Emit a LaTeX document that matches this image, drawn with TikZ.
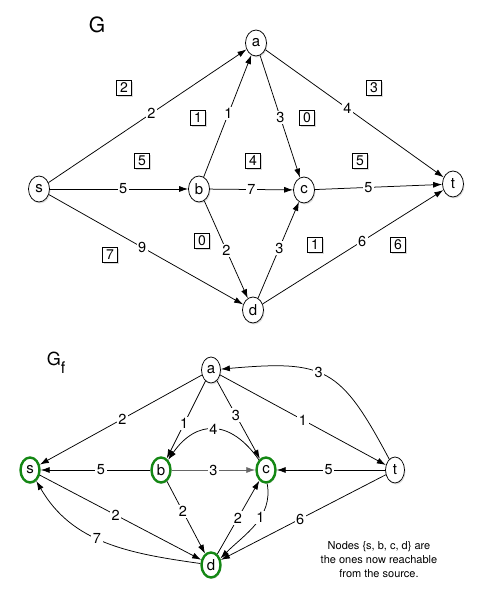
\documentclass[tikz,border=0pt]{standalone}
\usepackage{fontspec}
\setmainfont{TeX Gyre Heros}
\usetikzlibrary{shapes,arrows.meta,shadows}
\definecolor{reachgreen}{RGB}{20,135,20}

\begin{document}
\begin{tikzpicture}[x=10pt,y=10pt,line width=0.75pt,>={Latex[length=9pt,width=6pt]},
    vertex/.style={ellipse,draw,fill=white,inner sep=0pt,minimum width=21pt,minimum height=26pt,
        font=\fontsize{15}{15}\selectfont,drop shadow={opacity=0.25,shadow xshift=1pt,shadow yshift=-1.5pt}},
    rvertex/.style={vertex,minimum width=19pt,minimum height=26pt},
    reach/.style={vertex,draw=reachgreen,line width=2.4pt,minimum width=19pt,minimum height=25pt},
    lbl/.style={fill=white,inner sep=1.5pt,font=\fontsize{14.5}{14.5}\selectfont},
    flowbox/.style={draw,fill=white,inner sep=0pt,minimum size=15pt,font=\fontsize{14}{14}\selectfont,
        drop shadow={opacity=0.3,shadow xshift=1pt,shadow yshift=-1.5pt}}]
\useasboundingbox (0,0) rectangle (48.5,60.2);
% Network G
\node[font=\fontsize{21}{21}\selectfont] (gtitle) at (9.7,57.7) {G};
\node[vertex] (a) at (25.6,55.9) {a};
\node[vertex] (s) at (3.9,41.3) {s};
\node[vertex] (b) at (19.9,41.3) {b};
\node[vertex] (c) at (30.4,41.2) {c};
\node[vertex] (t) at (45.3,41.8) {t};
\node[vertex] (d) at (25.3,29.2) {d};
% Capacities
\draw[->] (s) -- node[lbl,pos=0.52] {2} (a);
\draw[->] (b) -- node[lbl,pos=0.52] {1} (a);
\draw[->] (a) -- node[lbl,pos=0.51] {3} (c);
\draw[->] (a) -- node[lbl,pos=0.46] {4} (t);
\draw[->] (s) -- node[lbl,pos=0.53] {5} (b);
\draw[->] (b) -- node[lbl] {7} (c);
\draw[->] (c) -- node[lbl,pos=0.42] {5} (t);
\draw[->] (s) -- node[lbl,pos=0.48] {9} (d);
\draw[->] (b) -- node[lbl,pos=0.51] {2} (d);
\draw[->] (d) -- node[lbl,pos=0.52] {3} (c);
\draw[->] (d) -- node[lbl,pos=0.55] {6} (t);
% Flow values
\foreach \nm/\x/\y/\v in {sa/12.4/51.4/2, ba/19.8/48.4/1, ac/30.7/48.4/0, at/37.4/51.4/3,
    sb/14.2/44.1/5, bc/25.3/44.1/4, ct/36.0/44.1/5, bd/20.2/36.1/0,
    sd/11.0/34.7/7, dc/31.5/35.7/1, dt/39.8/35.7/6} {
    \node[flowbox] (f\nm) at (\x,\y) {\v};
}
% Residual network G_f
\node[font=\fontsize{18}{18}\selectfont] (gftitle) at (5.6,23.9) {G\raisebox{-8pt}{\fontsize{16}{16}\selectfont f}};
\node[rvertex] (a2) at (21.1,23.2) {a};
\node[reach] (s2) at (3.0,13.2) {s};
\node[reach] (b2) at (16.1,13.2) {b};
\node[reach] (c2) at (26.6,13.2) {c};
\node[rvertex] (t2) at (39.5,13.2) {t};
\node[reach] (d2) at (21.1,3.7) {d};
\draw[->] (a2) -- node[lbl,pos=0.49] {2} (s2);
\draw[->] (a2) -- node[lbl,pos=0.55] {1} (b2);
\draw[->] (a2) -- node[lbl,pos=0.44] {3} (c2);
\draw[->] (a2) -- node[lbl] {1} (t2);
\draw[->] (t2) to[out=118,in=5,looseness=1.4] node[lbl,pos=0.55] {3} (a2);
\draw[->] (c2) to[out=125,in=55,looseness=1.4] node[lbl] {4} (b2);
\draw[->] (b2) -- node[lbl,pos=0.45] {5} (s2);
\draw[->,black!60] (b2) -- node[lbl,text=black] {3} (c2);
\draw[->] (t2) -- node[lbl,pos=0.52] {5} (c2);
\draw[->] (s2) -- node[lbl,pos=0.47] {2} (d2);
\draw[->] (b2) -- node[lbl,pos=0.42] {2} (d2);
\draw[->] (d2.60) -- node[lbl,pos=0.49] {2} (c2.238);
\draw[->] (c2.275) to[out=-80,in=45] node[lbl,pos=0.4] {1} (d2.35);
\draw[->] (t2) -- node[lbl,pos=0.52] {6} (d2);
\draw[->] (d2) to[out=172,in=-60] node[lbl,pos=0.55] {7} (s2);
\node[align=center,font=\fontsize{11}{14}\selectfont] (note) at (37.9,4.2)
    {Nodes \{s, b, c, d\} are\\the ones now reachable\\from the source.};
\end{tikzpicture}
\end{document}
